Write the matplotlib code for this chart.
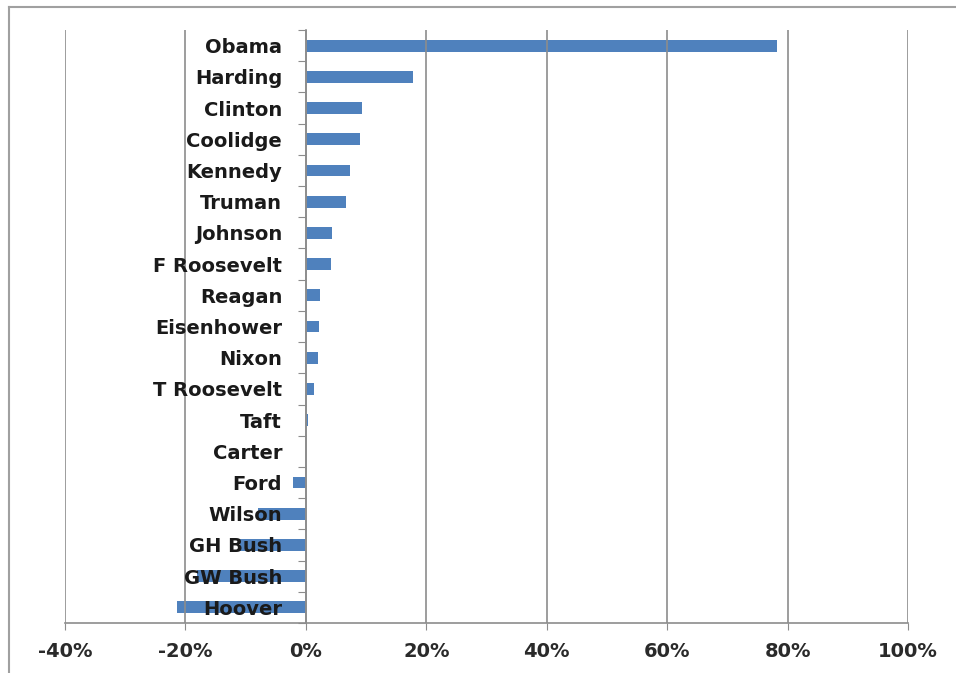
import matplotlib.pyplot as plt
import matplotlib.ticker as mticker
from matplotlib.lines import Line2D

# Presidents, top to bottom as in the chart
presidents = ['Obama', 'Harding', 'Clinton', 'Coolidge', 'Kennedy', 'Truman',
              'Johnson', 'F Roosevelt', 'Reagan', 'Eisenhower', 'Nixon',
              'T Roosevelt', 'Taft', 'Carter', 'Ford', 'Wilson', 'GH Bush',
              'GW Bush', 'Hoover']
returns = [0.782, 0.178, 0.093, 0.090, 0.074, 0.066,
           0.044, 0.042, 0.023, 0.021, 0.020,
           0.013, 0.003, 0.0, -0.022, -0.080, -0.110,
           -0.180, -0.214]
x_ticks = [-0.4, -0.2, 0.0, 0.2, 0.4, 0.6, 0.8, 1.0]

plt.rcParams['font.family'] = 'DejaVu Sans'
plt.rcParams['font.weight'] = 'bold'
plt.rcParams['axes.unicode_minus'] = False

W, H = 956, 673
fig = plt.figure(figsize=(W / 100, H / 100), dpi=100)
ax = fig.add_axes([65 / W, (H - 623) / H, (908 - 65) / W, (623 - 30) / H])
ax.set_axisbelow(False)  # labels sit on top of the bars, as in the original

grid_col = '#8c8c8c'
txt_col = '#1a1a1a'
pos = list(range(len(presidents)))
ax.barh(pos, returns, height=0.38, color='#4f81bd', zorder=1)

ax.set_xlim(-0.4, 1.0)
ax.set_ylim(len(presidents) - 0.5, -0.5)
ax.set_xticks(x_ticks)
ax.xaxis.set_major_formatter(mticker.PercentFormatter(1.0, decimals=0))
ax.grid(axis='x', color=grid_col, linewidth=1.2)

# category boundaries get the tick marks, centres get the labels
ax.set_yticks([p - 0.5 for p in pos] + [len(presidents) - 0.5])
ax.yaxis.set_major_formatter(mticker.NullFormatter())
ax.yaxis.set_minor_locator(mticker.FixedLocator(pos))
ax.yaxis.set_minor_formatter(mticker.FixedFormatter(presidents))
ax.tick_params(axis='y', which='major', length=6, color=grid_col, direction='out')
ax.tick_params(axis='y', which='minor', length=0, pad=17, labelsize=14,
               labelcolor=txt_col)
ax.tick_params(axis='x', length=5, color=grid_col, pad=9, labelsize=14,
               labelcolor='#2a2a2a')

ax.spines['left'].set_position(('data', 0))
ax.spines['left'].set_color(grid_col)
ax.spines['left'].set_linewidth(1.2)
ax.spines['bottom'].set_color(grid_col)
ax.spines['bottom'].set_linewidth(1.2)
ax.spines['top'].set_visible(False)
ax.spines['right'].set_visible(False)

# outer chart border (left and top edges are visible in the picture)
fig.add_artist(Line2D([9 / W, 9 / W], [0, 1 - 7 / H], color='#a0a0a0', linewidth=1.5))
fig.add_artist(Line2D([9 / W, 1], [1 - 7 / H, 1 - 7 / H], color='#a0a0a0', linewidth=1.5))

fig.savefig('out.png', dpi=100)
